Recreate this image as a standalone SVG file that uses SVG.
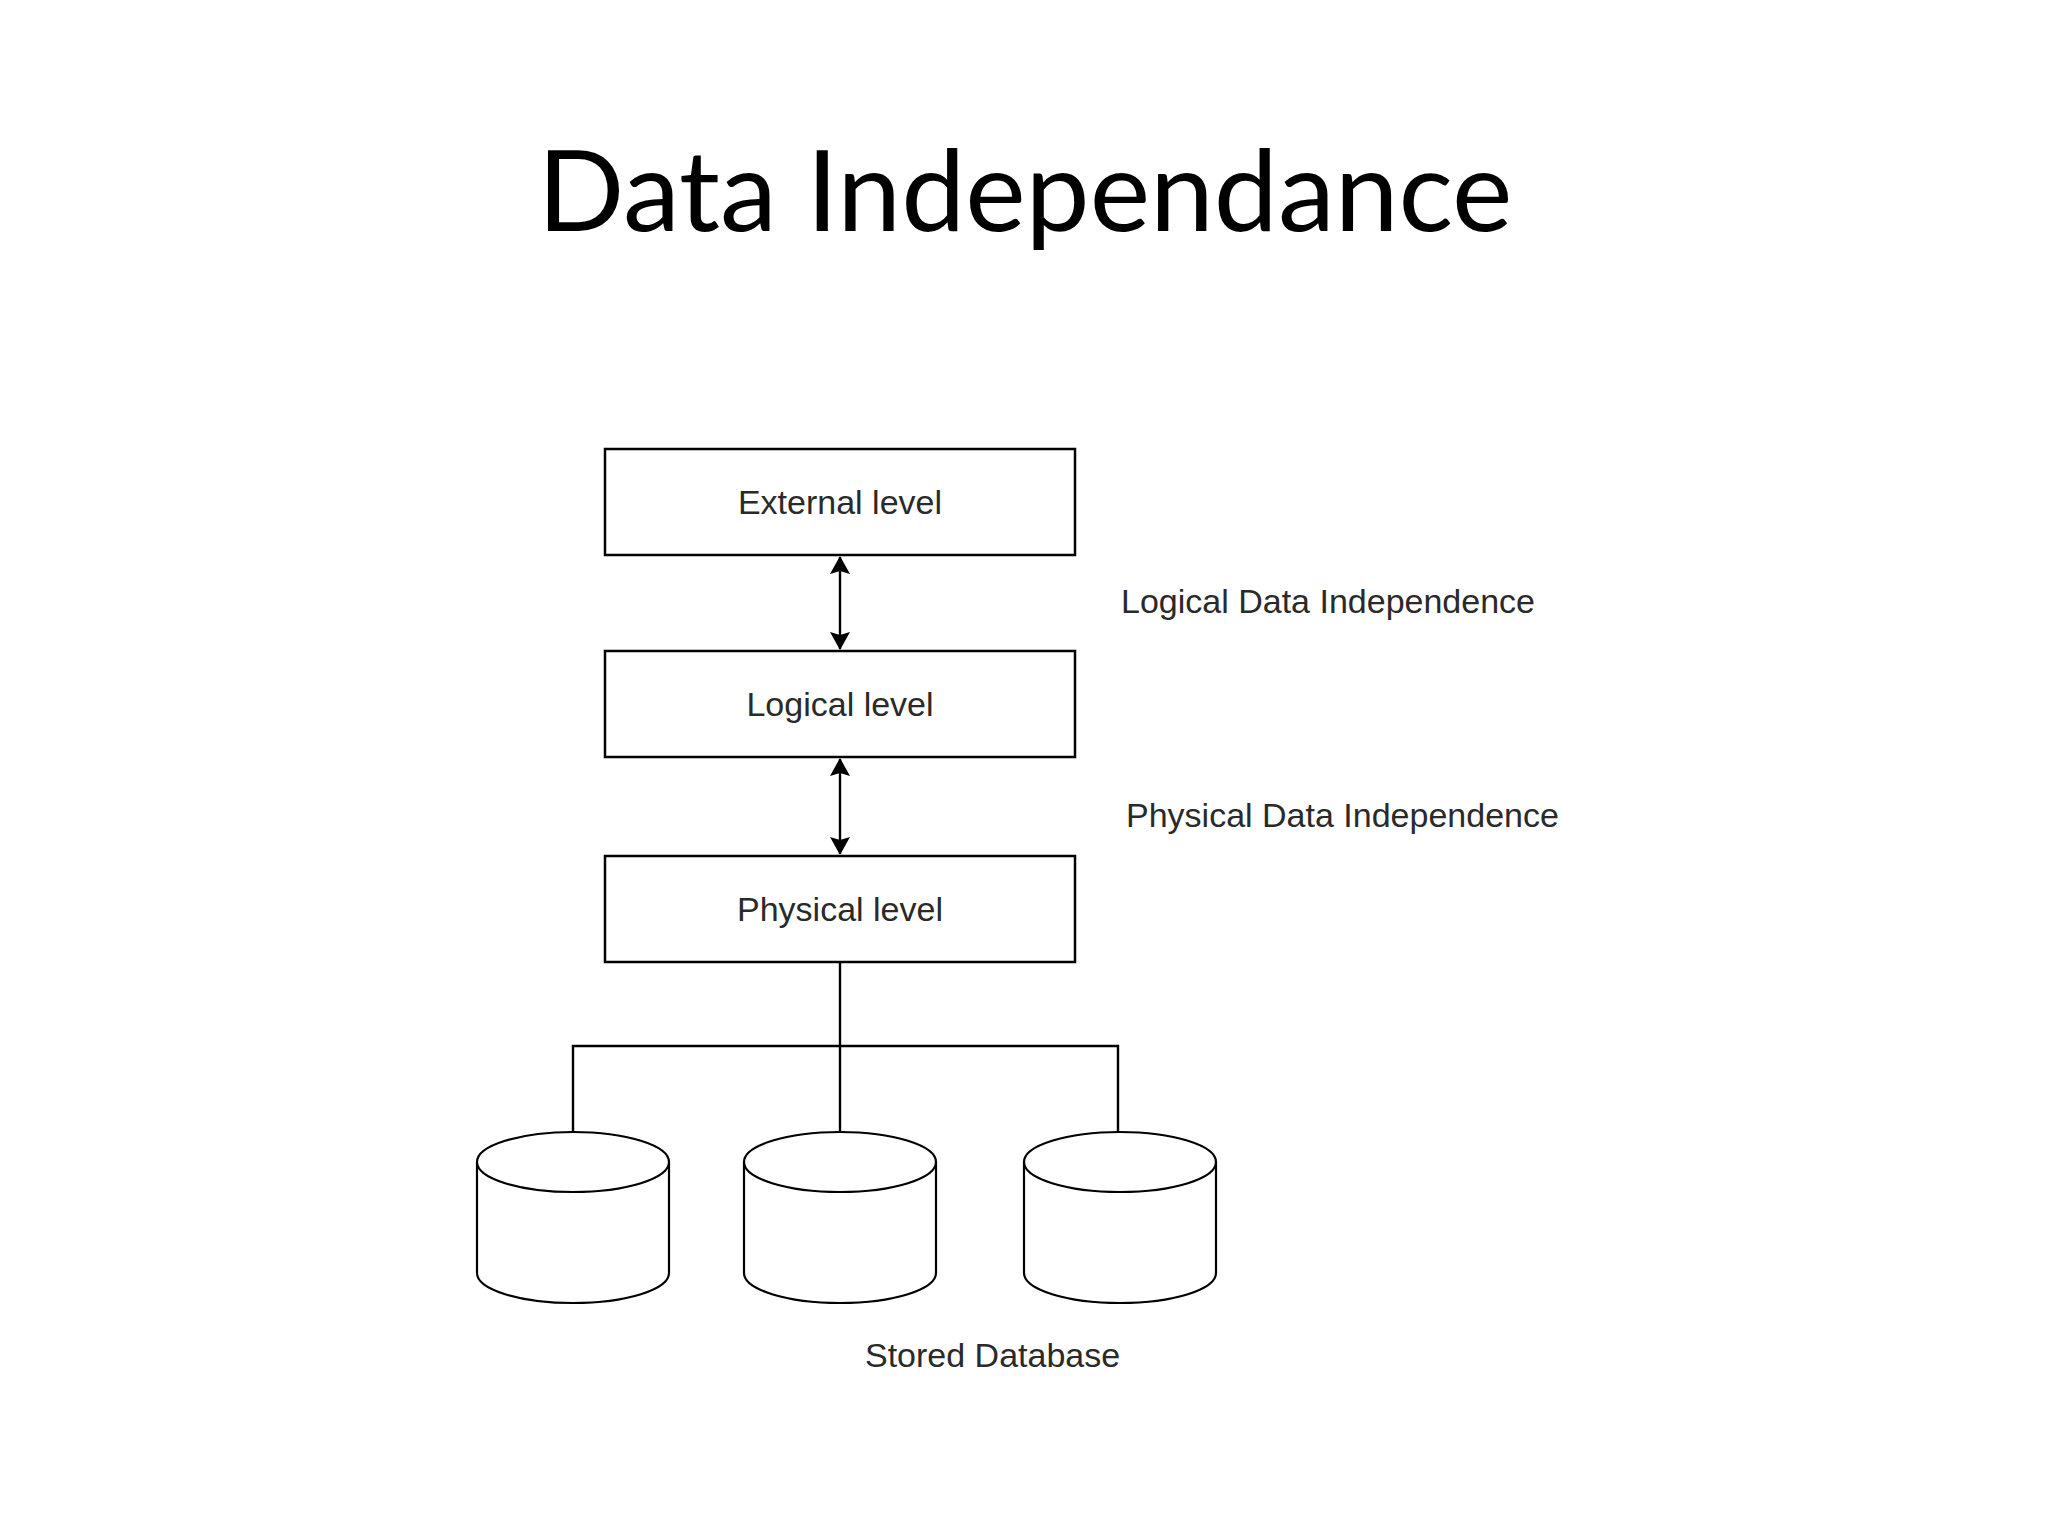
<svg xmlns="http://www.w3.org/2000/svg" width="2048" height="1536" viewBox="0 0 2048 1536">
  <style>
    .box { fill: #ffffff; stroke: #000000; stroke-width: 2.5; }
    .cyl { fill: #ffffff; stroke: #000000; stroke-width: 2.2; }
    .wire { fill: none; stroke: #000000; stroke-width: 2.4; }
    .lbl { font-family: "Liberation Sans", Arial, sans-serif; font-size: 34px; fill: #2a2a2a; }
    .title { font-family: Lato, "Open Sans", sans-serif; font-size: 112px; fill: #000000; }
  </style>
  <defs>
    <marker id="arr" viewBox="0 0 18 20" refX="17" refY="10" markerWidth="18" markerHeight="20" markerUnits="userSpaceOnUse" orient="auto-start-reverse">
      <path d="M0,0 L18,10 L0,20 L3,10 Z" fill="#000000"/>
    </marker>
  </defs>
  <rect width="2048" height="1536" fill="#ffffff"/>

  <text class="title" x="1025" y="231" text-anchor="middle" textLength="975" lengthAdjust="spacingAndGlyphs">Data Independance</text>

  <g id="connectors">
    <line class="wire" x1="840" y1="557" x2="840" y2="649" marker-start="url(#arr)" marker-end="url(#arr)"/>
    <line class="wire" x1="840" y1="759" x2="840" y2="854" marker-start="url(#arr)" marker-end="url(#arr)"/>
    <line class="wire" x1="840" y1="962" x2="840" y2="1132"/>
    <polyline class="wire" points="573,1132 573,1046 1118,1046 1118,1132"/>
  </g>

  <g id="external-level">
    <rect class="box" x="605" y="449" width="470" height="106"/>
    <text class="lbl" x="840" y="514" text-anchor="middle">External level</text>
  </g>
  <g id="logical-level">
    <rect class="box" x="605" y="651" width="470" height="106"/>
    <text class="lbl" x="840" y="716" text-anchor="middle">Logical level</text>
  </g>
  <g id="physical-level">
    <rect class="box" x="605" y="856" width="470" height="106"/>
    <text class="lbl" x="840" y="921" text-anchor="middle">Physical level</text>
  </g>

  <g id="logical-data-independence">
    <text class="lbl" x="1121" y="613">Logical Data Independence</text>
  </g>
  <g id="physical-data-independence">
    <text class="lbl" x="1126" y="827">Physical Data Independence</text>
  </g>

  <g id="db1">
    <path class="cyl" d="M477,1162 A96,30 0 0 1 669,1162 L669,1273 A96,30 0 0 1 477,1273 Z"/>
    <path class="cyl" fill="none" d="M477,1162 A96,30 0 0 0 669,1162"/>
  </g>
  <g id="db2">
    <path class="cyl" d="M744,1162 A96,30 0 0 1 936,1162 L936,1273 A96,30 0 0 1 744,1273 Z"/>
    <path class="cyl" fill="none" d="M744,1162 A96,30 0 0 0 936,1162"/>
  </g>
  <g id="db3">
    <path class="cyl" d="M1024,1162 A96,30 0 0 1 1216,1162 L1216,1273 A96,30 0 0 1 1024,1273 Z"/>
    <path class="cyl" fill="none" d="M1024,1162 A96,30 0 0 0 1216,1162"/>
  </g>

  <g id="stored-database">
    <text class="lbl" x="865" y="1367">Stored Database</text>
  </g>
</svg>
